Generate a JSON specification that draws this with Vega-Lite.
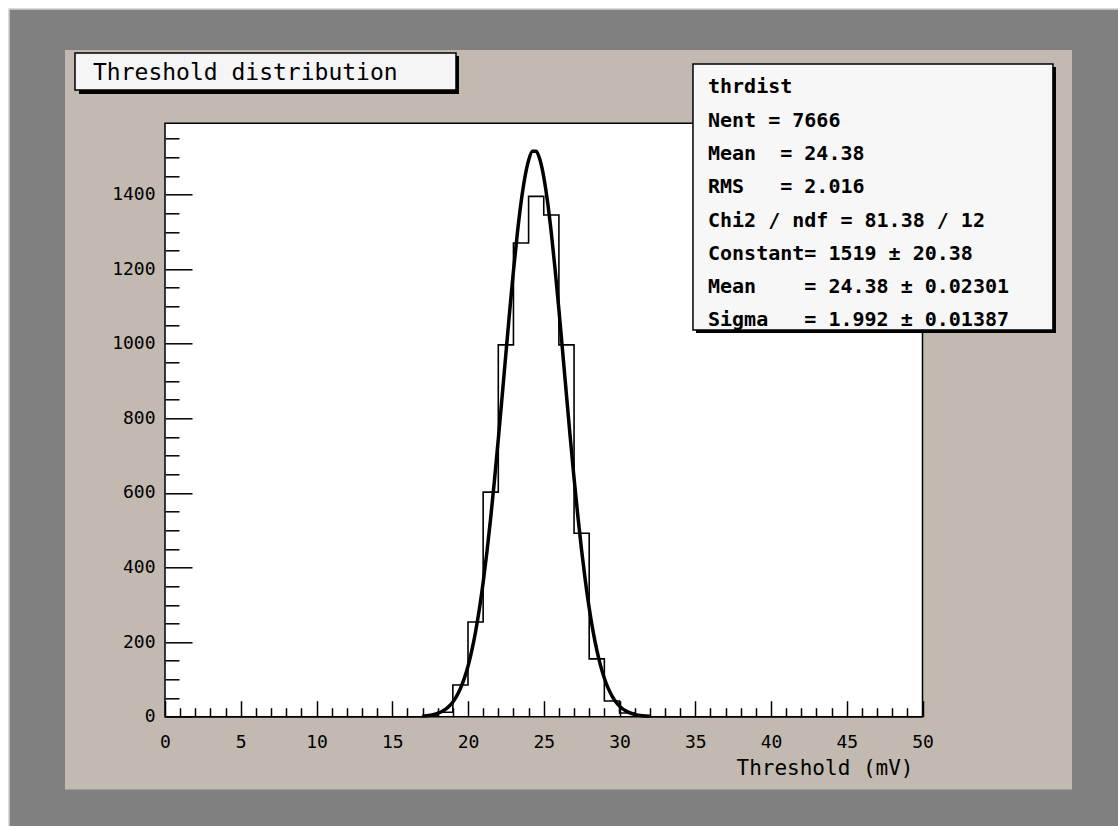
{
  "$schema": "https://vega.github.io/schema/vega-lite/v6.json",
  "width": 757.5,
  "height": 593.4,
  "autosize": {"type": "none"},
  "padding": {"left": 165, "top": 123.3, "right": 195.5, "bottom": 109.3},
  "background": "#808080",
  "datasets": {
    "one": [{}],
    "hist": [
      {"bin_lo": 0, "count": 0}, {"bin_lo": 1, "count": 0}, {"bin_lo": 2, "count": 0}, {"bin_lo": 3, "count": 0},
      {"bin_lo": 4, "count": 0}, {"bin_lo": 5, "count": 0}, {"bin_lo": 6, "count": 0}, {"bin_lo": 7, "count": 0},
      {"bin_lo": 8, "count": 0}, {"bin_lo": 9, "count": 0}, {"bin_lo": 10, "count": 0}, {"bin_lo": 11, "count": 0},
      {"bin_lo": 12, "count": 0}, {"bin_lo": 13, "count": 0}, {"bin_lo": 14, "count": 0}, {"bin_lo": 15, "count": 0},
      {"bin_lo": 16, "count": 0}, {"bin_lo": 17, "count": 2}, {"bin_lo": 18, "count": 12}, {"bin_lo": 19, "count": 85},
      {"bin_lo": 20, "count": 254}, {"bin_lo": 21, "count": 602}, {"bin_lo": 22, "count": 997}, {"bin_lo": 23, "count": 1270},
      {"bin_lo": 24, "count": 1395}, {"bin_lo": 25, "count": 1345}, {"bin_lo": 26, "count": 997}, {"bin_lo": 27, "count": 492},
      {"bin_lo": 28, "count": 155}, {"bin_lo": 29, "count": 42}, {"bin_lo": 30, "count": 10}, {"bin_lo": 31, "count": 2},
      {"bin_lo": 32, "count": 0}, {"bin_lo": 33, "count": 0}, {"bin_lo": 34, "count": 0}, {"bin_lo": 35, "count": 0},
      {"bin_lo": 36, "count": 0}, {"bin_lo": 37, "count": 0}, {"bin_lo": 38, "count": 0}, {"bin_lo": 39, "count": 0},
      {"bin_lo": 40, "count": 0}, {"bin_lo": 41, "count": 0}, {"bin_lo": 42, "count": 0}, {"bin_lo": 43, "count": 0},
      {"bin_lo": 44, "count": 0}, {"bin_lo": 45, "count": 0}, {"bin_lo": 46, "count": 0}, {"bin_lo": 47, "count": 0},
      {"bin_lo": 48, "count": 0}, {"bin_lo": 49, "count": 0}, {"bin_lo": 50, "count": 0}
    ],
    "fit": [
      {"fx": 17, "fy": 1.59}, {"fx": 17.25, "fy": 2.51}, {"fx": 17.5, "fy": 3.9}, {"fx": 17.75, "fy": 5.97},
      {"fx": 18, "fy": 8.99}, {"fx": 18.25, "fy": 13.34}, {"fx": 18.5, "fy": 19.49}, {"fx": 18.75, "fy": 27.99},
      {"fx": 19, "fy": 39.6}, {"fx": 19.25, "fy": 55.13}, {"fx": 19.5, "fy": 75.56}, {"fx": 19.75, "fy": 101.95},
      {"fx": 20, "fy": 135.41}, {"fx": 20.25, "fy": 177.08}, {"fx": 20.5, "fy": 227.88}, {"fx": 20.75, "fy": 288.72},
      {"fx": 21, "fy": 360.08}, {"fx": 21.25, "fy": 442.0}, {"fx": 21.5, "fy": 534.14}, {"fx": 21.75, "fy": 635.37},
      {"fx": 22, "fy": 744.0}, {"fx": 22.25, "fy": 857.6}, {"fx": 22.5, "fy": 973.05}, {"fx": 22.75, "fy": 1086.79},
      {"fx": 23, "fy": 1194.97}, {"fx": 23.25, "fy": 1293.24}, {"fx": 23.5, "fy": 1377.78}, {"fx": 23.75, "fy": 1444.9},
      {"fx": 24, "fy": 1491.61}, {"fx": 24.25, "fy": 1515.77}, {"fx": 24.5, "fy": 1516.25}, {"fx": 24.75, "fy": 1493.02},
      {"fx": 25, "fy": 1447.18}, {"fx": 25.25, "fy": 1380.83}, {"fx": 25.5, "fy": 1296.92}, {"fx": 25.75, "fy": 1199.12},
      {"fx": 26, "fy": 1091.26}, {"fx": 26.25, "fy": 977.66}, {"fx": 26.5, "fy": 862.21}, {"fx": 26.75, "fy": 748.47},
      {"fx": 27, "fy": 639.59}, {"fx": 27.25, "fy": 538.02}, {"fx": 27.5, "fy": 445.5}, {"fx": 27.75, "fy": 363.15},
      {"fx": 28, "fy": 291.36}, {"fx": 28.25, "fy": 230.09}, {"fx": 28.5, "fy": 178.9}, {"fx": 28.75, "fy": 136.91},
      {"fx": 29, "fy": 103.15}, {"fx": 29.25, "fy": 76.51}, {"fx": 29.5, "fy": 55.85}, {"fx": 29.75, "fy": 40.13},
      {"fx": 30, "fy": 28.39}, {"fx": 30.5, "fy": 13.55}, {"fx": 31, "fy": 6.07}, {"fx": 31.5, "fy": 2.55},
      {"fx": 32, "fy": 1.01}
    ]
  },
  "config": {
    "view": {"stroke": null},
    "axis": {
      "domain": false,
      "grid": false,
      "zindex": 1,
      "tickColor": "#000000",
      "tickWidth": 1.5,
      "labelFont": "DejaVu Sans Mono",
      "labelFontSize": 18,
      "labelColor": "#000000",
      "labelOverlap": false,
      "labelFlush": false
    }
  },
  "resolve": {"axis": {"x": "independent", "y": "independent"}},
  "layer": [
    {
      "data": {"name": "one"},
      "mark": {"type": "rect", "fill": "#ffffff"},
      "encoding": {
        "x": {"datum": -12, "type": "quantitative", "scale": {"domain": [0, 50], "nice": false, "zero": false}, "axis": null},
        "x2": {"datum": 70},
        "y": {"datum": 2000, "type": "quantitative", "scale": {"domain": [0, 1591], "nice": false, "zero": false}, "axis": null},
        "y2": {"datum": -400}
      }
    },
    {
      "data": {"name": "one"},
      "mark": {"type": "rect", "fill": "#808080", "stroke": "#d0d0d0", "strokeWidth": 1.5},
      "encoding": {
        "x": {"datum": -10.297, "type": "quantitative", "scale": {"domain": [0, 50], "nice": false, "zero": false}, "axis": null},
        "x2": {"datum": 70},
        "y": {"datum": 1897.5, "type": "quantitative", "scale": {"domain": [0, 1591], "nice": false, "zero": false}, "axis": null},
        "y2": {"datum": -400}
      }
    },
    {
      "data": {"name": "one"},
      "mark": {"type": "rect", "fill": "#c2b9b0"},
      "encoding": {
        "x": {"datum": -6.601, "type": "quantitative", "scale": {"domain": [0, 50], "nice": false, "zero": false}, "axis": null},
        "x2": {"datum": 59.868},
        "y": {"datum": 1787.5, "type": "quantitative", "scale": {"domain": [0, 1591], "nice": false, "zero": false}, "axis": null},
        "y2": {"datum": -195.2}
      }
    },
    {
      "data": {"name": "one"},
      "mark": {"type": "rect", "fill": "#ffffff", "stroke": "#000000", "strokeWidth": 1.5},
      "encoding": {
        "x": {"datum": 0, "type": "quantitative", "scale": {"domain": [0, 50], "nice": false, "zero": false}, "axis": null},
        "x2": {"datum": 50},
        "y": {"datum": 1591, "type": "quantitative", "scale": {"domain": [0, 1591], "nice": false, "zero": false}, "axis": null},
        "y2": {"datum": 0}
      }
    },
    {
      "data": {"name": "hist"},
      "mark": {"type": "line", "interpolate": "step-after", "color": "#000000", "strokeWidth": 1.6},
      "encoding": {
        "x": {
          "field": "bin_lo", "type": "quantitative",
          "scale": {"domain": [0, 50], "nice": false, "zero": false},
          "axis": {
            "orient": "bottom",
            "zindex": 1,
            "values": [0, 5, 10, 15, 20, 25, 30, 35, 40, 45, 50],
            "tickSize": -16,
            "labelPadding": 33,
            "format": "d",
            "title": "Threshold (mV)",
            "titleFont": "DejaVu Sans Mono",
            "titleFontSize": 21,
            "titleFontWeight": "normal",
            "titleColor": "#000000",
            "titleAnchor": "end",
            "titleAlign": "right",
            "titleBaseline": "middle",
            "titleX": 748,
            "titleY": 52
          }
        },
        "y": {
          "field": "count", "type": "quantitative",
          "scale": {"domain": [0, 1591], "nice": false, "zero": false},
          "axis": {
            "orient": "left",
            "zindex": 1,
            "values": [0, 200, 400, 600, 800, 1000, 1200, 1400],
            "tickSize": -27,
            "labelPadding": 37,
            "format": "d",
            "title": null
          }
        }
      }
    },
    {
      "data": {"name": "fit"},
      "mark": {"type": "line", "interpolate": "monotone", "color": "#000000", "strokeWidth": 3.5},
      "encoding": {
        "x": {
          "field": "fx", "type": "quantitative",
          "scale": {"domain": [0, 50], "nice": false, "zero": false},
          "axis": {
            "orient": "bottom",
            "zindex": 1,
            "values": [1,2,3,4,6,7,8,9,11,12,13,14,16,17,18,19,21,22,23,24,26,27,28,29,31,32,33,34,36,37,38,39,41,42,43,44,46,47,48,49],
            "tickSize": -9,
            "labels": false,
            "title": null
          }
        },
        "y": {
          "field": "fy", "type": "quantitative",
          "scale": {"domain": [0, 1591], "nice": false, "zero": false},
          "axis": {
            "orient": "left",
            "zindex": 1,
            "values": [50,100,150,250,300,350,450,500,550,650,700,750,850,900,950,1050,1100,1150,1250,1300,1350,1450,1500,1550],
            "tickSize": -14,
            "labels": false,
            "title": null
          }
        }
      }
    },
    {
      "data": {"name": "one"},
      "mark": {"type": "rect", "fill": "#000000"},
      "encoding": {
        "x": {"datum": -5.677, "type": "quantitative", "scale": {"domain": [0, 50], "nice": false, "zero": false}, "axis": null},
        "x2": {"datum": 19.406},
        "y": {"datum": 1771.4, "type": "quantitative", "scale": {"domain": [0, 1591], "nice": false, "zero": false}, "axis": null},
        "y2": {"datum": 1669.6}
      }
    },
    {
      "data": {"name": "one"},
      "mark": {"type": "rect", "fill": "#f5f5f5", "stroke": "#000000", "strokeWidth": 1.5},
      "encoding": {
        "x": {"datum": -5.941, "type": "quantitative", "scale": {"domain": [0, 50], "nice": false, "zero": false}, "axis": null},
        "x2": {"datum": 19.208},
        "y": {"datum": 1779.5, "type": "quantitative", "scale": {"domain": [0, 1591], "nice": false, "zero": false}, "axis": null},
        "y2": {"datum": 1680.3}
      }
    },
    {
      "data": {"name": "one"},
      "mark": {"type": "text", "text": "Threshold distribution", "font": "DejaVu Sans Mono", "fontSize": 23, "align": "left", "baseline": "middle", "color": "#000000"},
      "encoding": {
        "x": {"datum": -4.752, "type": "quantitative", "scale": {"domain": [0, 50], "nice": false, "zero": false}, "axis": null},
        "y": {"datum": 1725.9, "type": "quantitative", "scale": {"domain": [0, 1591], "nice": false, "zero": false}, "axis": null}
      }
    },
    {
      "data": {"name": "one"},
      "mark": {"type": "rect", "fill": "#000000"},
      "encoding": {
        "x": {"datum": 35.05, "type": "quantitative", "scale": {"domain": [0, 50], "nice": false, "zero": false}, "axis": null},
        "x2": {"datum": 58.81},
        "y": {"datum": 1741.9, "type": "quantitative", "scale": {"domain": [0, 1591], "nice": false, "zero": false}, "axis": null},
        "y2": {"datum": 1028.8}
      }
    },
    {
      "data": {"name": "one"},
      "mark": {"type": "rect", "fill": "#f7f7f7", "stroke": "#000000", "strokeWidth": 1.5},
      "encoding": {
        "x": {"datum": 34.85, "type": "quantitative", "scale": {"domain": [0, 50], "nice": false, "zero": false}, "axis": null},
        "x2": {"datum": 58.61},
        "y": {"datum": 1750.0, "type": "quantitative", "scale": {"domain": [0, 1591], "nice": false, "zero": false}, "axis": null},
        "y2": {"datum": 1036.8}
      }
    },
    {
      "data": {"name": "one"},
      "mark": {
        "type": "text",
        "text": ["thrdist", "Nent = 7666", "Mean\u00a0\u00a0= 24.38", "RMS\u00a0\u00a0\u00a0= 2.016", "Chi2 / ndf = 81.38 / 12", "Constant= 1519 ± 20.38", "Mean\u00a0\u00a0\u00a0\u00a0= 24.38 ± 0.02301", "Sigma\u00a0\u00a0\u00a0= 1.992 ± 0.01387"],
        "font": "DejaVu Sans Mono",
        "fontSize": 20,
        "fontWeight": "bold",
        "align": "left",
        "baseline": "alphabetic",
        "lineHeight": 33.3,
        "color": "#000000"
      },
      "encoding": {
        "x": {"datum": 35.84, "type": "quantitative", "scale": {"domain": [0, 50], "nice": false, "zero": false}, "axis": null},
        "y": {"datum": 1671.4, "type": "quantitative", "scale": {"domain": [0, 1591], "nice": false, "zero": false}, "axis": null}
      }
    }
  ]
}
